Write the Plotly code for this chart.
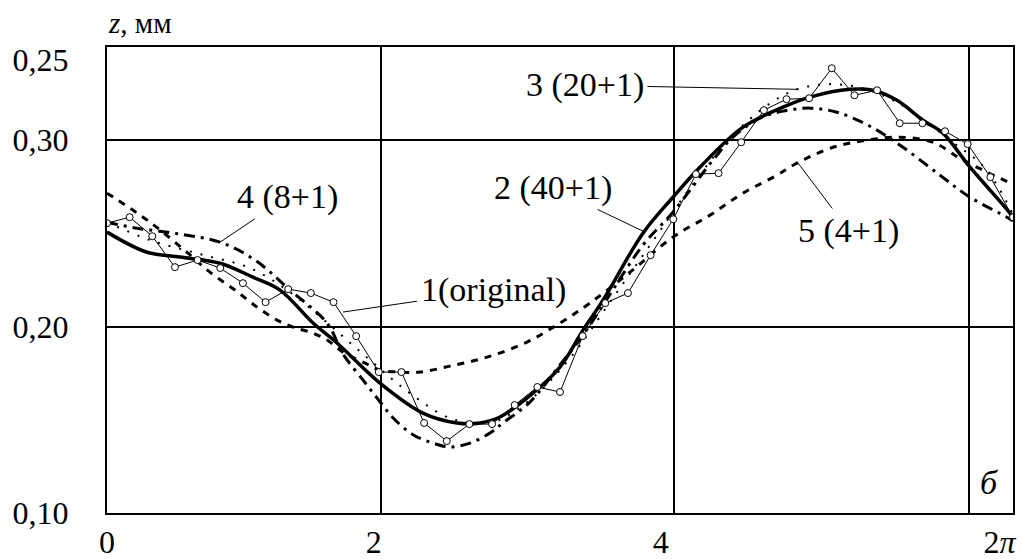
import numpy as np
import plotly.graph_objects as go

# ---------------- data ----------------
# curve 1 (original): 41 samples over [0, 2π]
orig_y = [0.2555, 0.2587, 0.2485, 0.2319, 0.2357, 0.2314, 0.2233, 0.2131, 0.2201, 0.2180,
          0.2131, 0.1949, 0.1756, 0.1756, 0.1483, 0.1386, 0.1477, 0.1477, 0.1579, 0.1676,
          0.1649, 0.1949, 0.2126, 0.2180, 0.2383, 0.2576, 0.2818, 0.2823, 0.2989, 0.3161,
          0.3220, 0.3225, 0.3386, 0.3241, 0.3268, 0.3091, 0.3091, 0.3048, 0.2979, 0.2802,
          0.2587]
orig_x = [i * 2 * np.pi / 40 for i in range(41)]

# curve 2 (40+1)
c2_x = [0.000, 0.277, 0.506, 0.784, 1.012, 1.200, 1.429, 1.595, 1.893, 2.191, 2.427, 2.587,
        2.725, 2.954, 3.141, 3.301, 3.440, 3.717, 3.925, 4.112, 4.411, 4.688, 4.875, 5.153,
        5.312, 5.479, 5.659, 5.797, 5.985, 6.262, 6.283]
c2_y = [0.2507, 0.2399, 0.2373, 0.2340, 0.2265, 0.2196, 0.2019, 0.1912, 0.1697, 0.1536, 0.1483, 0.1483,
        0.1515, 0.1643, 0.1783, 0.1981, 0.2142, 0.2501, 0.2694, 0.2855, 0.3070, 0.3177, 0.3231, 0.3273,
        0.3268, 0.3214, 0.3107, 0.3038, 0.2855, 0.2609, 0.2585]

# curve 3 (20+1)
c3_x = [0.000, 0.298, 0.645, 0.992, 1.269, 1.546, 1.824, 2.101, 2.379, 2.656, 2.933, 3.211,
        3.488, 3.766, 4.043, 4.320, 4.598, 4.785, 4.979, 5.173, 5.361, 5.569, 5.846, 6.089, 6.283]
c3_y = [0.2560, 0.2464, 0.2389, 0.2314, 0.2185, 0.2008, 0.1820, 0.1643, 0.1509, 0.1483, 0.1606, 0.1831,
        0.2131, 0.2437, 0.2743, 0.3011, 0.3198, 0.3273, 0.3300, 0.3290, 0.3247, 0.3161, 0.3000, 0.2850, 0.2603]

# curve 4 (8+1)
c4_x = [0.000, 0.208, 0.506, 0.784, 1.026, 1.269, 1.526, 1.637, 1.789, 1.893, 1.983, 2.122,
        2.261, 2.379, 2.517, 2.656, 2.746, 2.933, 3.141, 3.301, 3.440, 3.717, 3.925, 4.202,
        4.341, 4.528, 4.688, 4.875, 5.062, 5.291, 5.520, 5.777, 5.985, 6.241, 6.283]
c4_y = [0.2560, 0.2528, 0.2496, 0.2453, 0.2357, 0.2196, 0.2019, 0.1853, 0.1700, 0.1597, 0.1511, 0.1420,
        0.1375, 0.1354, 0.1375, 0.1429, 0.1483, 0.1595, 0.1794, 0.1954, 0.2115, 0.2437, 0.2614, 0.2893,
        0.3016, 0.3118, 0.3156, 0.3172, 0.3150, 0.3075, 0.2962, 0.2812, 0.2694, 0.2587, 0.2566]

# curve 5 (4+1)
c5_x = [0.000, 0.298, 0.562, 0.714, 0.888, 1.040, 1.179, 1.290, 1.429, 1.526, 1.637, 1.789,
        1.893, 2.032, 2.171, 2.379, 2.635, 2.913, 3.141, 3.349, 3.627, 3.925, 4.182, 4.411,
        4.646, 4.785, 5.035, 5.270, 5.499, 5.728, 5.915, 6.075, 6.283]
c5_y = [0.2716, 0.2560, 0.2394, 0.2292, 0.2196, 0.2105, 0.2035, 0.1997, 0.1965, 0.1928, 0.1863, 0.1804,
        0.1767, 0.1756, 0.1756, 0.1788, 0.1836, 0.1917, 0.2019, 0.2126, 0.2292, 0.2480, 0.2598, 0.2716,
        0.2812, 0.2877, 0.2962, 0.3000, 0.3016, 0.2989, 0.2903, 0.2839, 0.2764]

x_tickvals = [0.0, 1.85, 3.84, 6.19]
x_ticktext = ["0", "2", "4", "2<i>π</i>"]
x_gridvals = [1.90, 3.93, 5.98]
y_tickvals = [0.10, 0.20, 0.30, 0.343]
y_ticktext = ["0,10", "0,20", "0,30", "0,25"]
y_gridvals = [0.20, 0.30]

FONT = "Liberation Serif, Times New Roman, Times, serif"

fig = go.Figure()
fig.add_trace(go.Scatter(x=c5_x, y=c5_y, mode="lines", line=dict(color="black", width=3, dash="7px,7px", shape="spline")))
fig.add_trace(go.Scatter(x=c4_x, y=c4_y, mode="lines", line=dict(color="black", width=3, dash="11px,6px,3px,6px", shape="spline")))
fig.add_trace(go.Scatter(x=c3_x, y=c3_y, mode="lines", line=dict(color="black", width=2, dash="2px,9px", shape="spline")))
fig.add_trace(go.Scatter(x=c2_x, y=c2_y, mode="lines", line=dict(color="black", width=3.5, shape="spline")))
fig.add_trace(go.Scatter(x=orig_x, y=orig_y, mode="lines+markers",
                         line=dict(color="black", width=1),
                         marker=dict(symbol="circle", size=7, color="white", line=dict(color="black", width=1))))

ann_font = dict(family=FONT, size=34, color="black")
labels = [
    ("3 (20+1)", 4.785, 0.3273, -212, -4),
    ("4 (8+1)", 0.784, 0.2453, 67, -45),
    ("2 (40+1)", 3.731, 0.2507, -92, -44),
    ("1(original)", 1.637, 0.2078, 150, -22),
    ("5 (4+1)", 4.785, 0.2885, 52, 69),
]
for txt, tx, ty, ax, ay in labels:
    fig.add_annotation(x=tx, y=ty, text=txt, showarrow=True, arrowhead=0, arrowwidth=1,
                       arrowcolor="black", ax=ax, ay=ay, font=ann_font, standoff=0, startstandoff=2)

fig.add_annotation(x=6.123, y=0.1166, text="<i>б</i>", showarrow=False, font=ann_font)
fig.add_annotation(xref="paper", yref="paper", x=0.036, y=1.051, text="<i>z</i>, мм",
                   showarrow=False, font=dict(family=FONT, size=29, color="black"),
                   xanchor="center", yanchor="middle")

fig.update_layout(
    width=1021, height=559,
    margin=dict(l=107, r=8, t=47, b=46, autoexpand=False),
    plot_bgcolor="white", paper_bgcolor="white",
    showlegend=False,
    font=dict(family=FONT, color="black"),
    xaxis=dict(range=[0, 2 * np.pi], tickmode="array", tickvals=x_tickvals, ticktext=x_ticktext,
               showgrid=False, zeroline=False, showline=True, mirror=True, linecolor="black", linewidth=2,
               automargin=False,
               ticks="", tickfont=dict(family=FONT, size=32, color="black"), ticklabelstandoff=0,
               minor=dict(tickmode="array", tickvals=x_gridvals, showgrid=True, gridcolor="black", gridwidth=1.5, ticks="")),
    yaxis=dict(range=[0.10, 0.35], tickmode="array", tickvals=y_tickvals, ticktext=y_ticktext,
               showgrid=False, zeroline=False, showline=True, mirror=True, linecolor="black", linewidth=2,
               automargin=False,
               ticks="", tickfont=dict(family=FONT, size=32, color="black"), ticklabelstandoff=30,
               minor=dict(tickmode="array", tickvals=y_gridvals, showgrid=True, gridcolor="black", gridwidth=1.5, ticks="")),
)

fig.write_html("out.html", config={"displayModeBar": False},
               post_script="document.body.style.margin='0';document.body.style.overflow='hidden';")
